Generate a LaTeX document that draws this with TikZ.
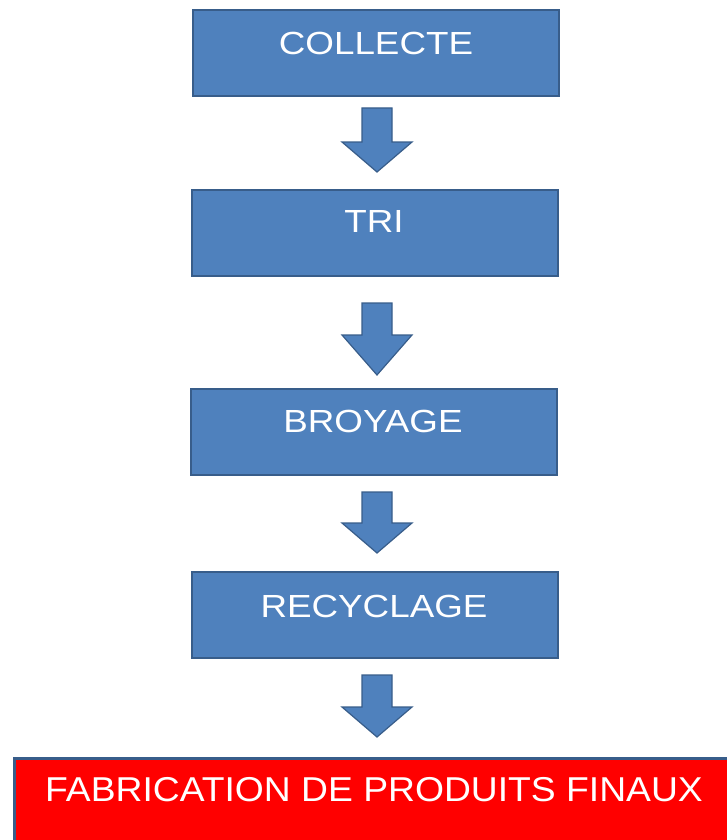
\documentclass[tikz,border=0pt]{standalone}
\usepackage{fontspec}
\setmainfont{Liberation Sans}
\definecolor{boxblue}{HTML}{4F81BD}
\definecolor{edgeblue}{HTML}{385D8A}
\definecolor{boxred}{HTML}{FF0000}
\tikzset{
  bluebox/.style={draw=edgeblue, line width=2pt, fill=boxblue, minimum width=366pt, minimum height=86pt, inner sep=0pt},
  redbox/.style={draw=edgeblue, line width=2.5pt, fill=boxred, minimum width=730pt, minimum height=100pt, inner sep=0pt, anchor=north west},
  bluetext/.style={text=white, font=\fontsize{32}{38}\selectfont, xscale=1.15, inner sep=0pt},
  redtext/.style={text=white, font=\fontsize{34.5}{40}\selectfont, xscale=1.08, inner sep=0pt},
  blockarrow/.style={draw=edgeblue, line width=1.2pt, fill=boxblue, line join=miter}
}
\newcommand\flowarrow[3]{%
  \draw[blockarrow] (362,#1) -- (392,#1) -- (392,#2) -- (412,#2) -- (377,#3) -- (342,#2) -- (362,#2) -- cycle;}
\begin{document}
\begin{tikzpicture}[x=1pt,y=-1pt]
\useasboundingbox (0,0) rectangle (726,840);
\node[bluebox] (collecte) at (376,53) {};
\node[bluetext] (collecte-t) at (376,43.5) {COLLECTE};
\node[bluebox] (tri) at (375,233) {};
\node[bluetext] (tri-t) at (374,221.5) {TRI};
\node[bluebox] (broyage) at (374,432) {};
\node[bluetext] (broyage-t) at (373,421.5) {BROYAGE};
\node[bluebox] (recyclage) at (375,615) {};
\node[bluetext] (recyclage-t) at (374,606.5) {RECYCLAGE};
\node[redbox] (final) at (13,757) {};
\node[redtext] (final-t) at (374,789.5) {FABRICATION DE PRODUITS FINAUX};
\flowarrow{108}{142}{172}
\flowarrow{303}{335}{375}
\flowarrow{492}{523}{553}
\flowarrow{675}{707}{737}
\end{tikzpicture}
\end{document}
